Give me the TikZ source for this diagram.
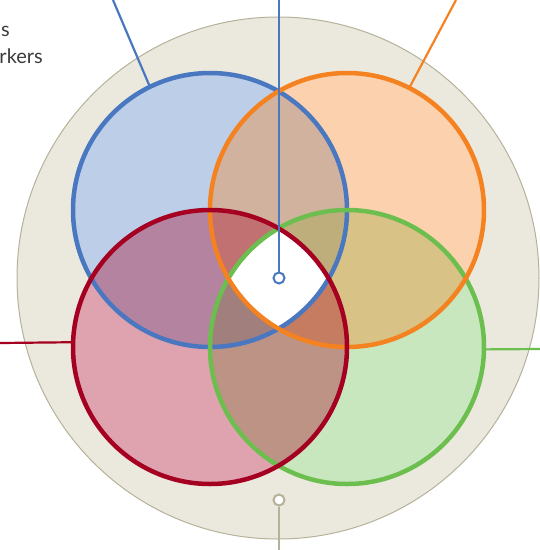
\documentclass[tikz,border=0pt]{standalone}
\usepackage{fontspec}
\setmainfont{Lato}
\definecolor{plate}{HTML}{EBE9DD}
\definecolor{plateline}{HTML}{B5B29A}
\definecolor{blueline}{HTML}{4A78C0}
\definecolor{orangeline}{HTML}{F58220}
\definecolor{redline}{HTML}{A50021}
\definecolor{greenline}{HTML}{6CBF4E}
\definecolor{textgray}{HTML}{3A3A3A}
\tikzset{
  setfill/.style={circle, inner sep=0pt, minimum size=274pt, fill=#1, fill opacity=0.36},
  ring/.style={line width=4.5pt},
  leader/.style={line width=2.2pt},
  marker/.style={circle, inner sep=0pt, minimum size=11pt, line width=2pt, fill=white},
  caption/.style={font=\fontsize{20}{24}\selectfont, text=textgray, inner sep=0pt}
}
\begin{document}
\begin{tikzpicture}[x=1pt, y=-1pt]
    \useasboundingbox (0,0) rectangle (540,550);
    % Plate
    \node (plate) [circle, draw=plateline, fill=plate, line width=1pt, minimum size=522pt, inner sep=0pt] at (278,278) {};

    % Sets
    \foreach \p in {(210,210),(347,210),(210,347),(347,347)}
        \fill[white] \p circle (137);
    \node (blue) [setfill=blueline] at (210,210) {};
    \node (green) [setfill=greenline] at (347,347) {};
    \node (orange) [setfill=orangeline] at (347,210) {};
    \node (red) [setfill=redline] at (210,347) {};
    \begin{scope}
        \clip (blue.center) circle (137);
        \clip (orange.center) circle (137);
        \clip (red.center) circle (137);
        \clip (green.center) circle (137);
        \fill[white] (150,150) rectangle (400,400);
    \end{scope}
    \draw[blueline, ring] (blue.center) circle (137);
    \draw[greenline, ring] (green.center) circle (137);
    \draw[orangeline, ring] (orange.center) circle (137);
    \draw[redline, ring] (red.center) circle (137);

    % Markers
    \node (hub) [marker, draw=blueline] at (279,278) {};
    \node (base) [marker, draw=plateline] at (279,500) {};

    % Leaders
    \coordinate (bluetip) at (113,0);
    \coordinate (orangetip) at (456,0);
    \coordinate (redtip) at (0,343);
    \coordinate (greentip) at (540,349);
    \coordinate (hubtip) at (279,0);
    \coordinate (basetip) at (279,550);
    \draw[blueline, leader] (blue.116) -- (bluetip);
    \draw[orangeline, leader] (orange.63) -- (orangetip);
    \draw[redline, leader] (red.178) -- (redtip);
    \draw[greenline, leader] (green.359) -- (greentip);
    \draw[blueline, leader] (hub.north) -- (hubtip);
    \draw[plateline, leader] (base.south) -- (basetip);

    % Captions
    \node (cap1) [caption, anchor=base east] at (10,36) {s};
    \node (cap2) [caption, anchor=base east] at (43,63) {rkers};
\end{tikzpicture}
\end{document}
